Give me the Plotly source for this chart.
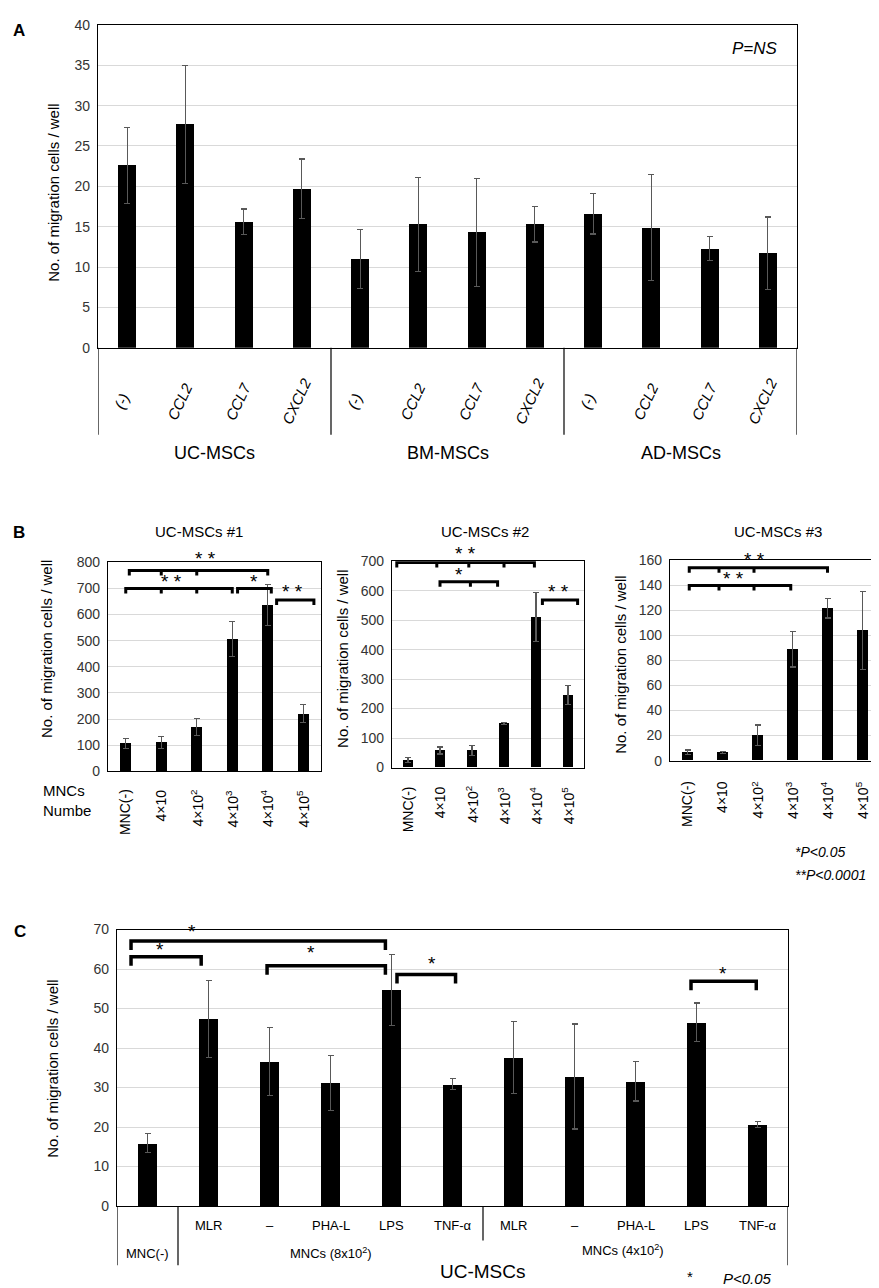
import plotly.graph_objects as go

W, H = 879, 1288
FONT = "Liberation Sans, Arial, sans-serif"

# ---- panel A data
a_groups = ["UC-MSCs", "BM-MSCs", "AD-MSCs"]
a_factors = ["(-)", "CCL2", "CCL7", "CXCL2"]
a_mean = [22.6, 27.7, 15.6, 19.7, 11.0, 15.3, 14.3, 15.3, 16.6, 14.9, 12.3, 11.7]
a_sd = [4.7, 7.3, 1.6, 3.7, 3.7, 5.8, 6.7, 2.2, 2.5, 6.6, 1.5, 4.5]

# ---- panel B data
b_titles = ["UC-MSCs #1", "UC-MSCs #2", "UC-MSCs #3"]
b_ticks = ["MNC(-)", "4×10", "4×10<sup>2</sup>", "4×10<sup>3</sup>", "4×10<sup>4</sup>", "4×10<sup>5</sup>"]
b1_mean = [107, 112, 171, 506, 636, 221]
b1_sd = [19, 23, 33, 66, 78, 34]
b2_mean = [26, 58, 58, 149, 511, 246]
b2_sd = [8, 12, 16, 4, 83, 32]
b3_mean = [6.6, 6.5, 20.2, 89, 121.5, 104]
b3_sd = [1.9, 0.6, 8.2, 14.2, 7.7, 31]

# ---- panel C data
c_ticks = ["", "MLR", "–", "PHA-L", "LPS", "TNF-α", "MLR", "–", "PHA-L", "LPS", "TNF-α"]
c_mean = [15.9, 47.4, 36.6, 31.2, 54.7, 30.8, 37.6, 32.8, 31.6, 46.5, 20.6]
c_sd = [2.4, 9.7, 8.6, 7.0, 8.9, 1.4, 9.1, 13.3, 5.0, 4.9, 0.7]

# significance brackets: (x0, x1, level, inner ticks, label, label x, label y)
br_b1 = [(0.1, 4.0, 768, [1, 2], "* *", 2.25, 812),
         (0.0, 3.0, 699, [1, 2], "* *", 1.3, 725),
         (3.15, 4.1, 699, [], "*", 3.6, 725),
         (4.25, 5.3, 655, [], "* *", 4.7, 688)]
br_b2 = [(-0.35, 3.95, 695, [0.9, 1.9, 3.0], "* *", 1.8, 725),
         (1.0, 2.8, 630, [1.95], "*", 1.6, 654),
         (4.2, 5.3, 568, [], "* *", 4.7, 598)]
br_b3 = [(0.05, 4.0, 154, [0.9, 1.9], "* *", 1.9, 160.5),
         (0.05, 2.95, 139.7, [0.9, 1.9], "* *", 1.3, 145)]
br_c = [(-0.27, 3.9, 67.1, [], "*", 0.73, 69.6),
        (-0.27, 0.88, 63.1, [], "*", 0.2, 65.0),
        (1.96, 3.9, 60.8, [], "*", 2.68, 64.1),
        (4.09, 5.05, 58.6, [], "*", 4.66, 61.4),
        (8.91, 9.98, 56.9, [], "*", 9.43, 58.8)]


def fx(px):
    return px / W


def fy(py):
    return 1 - py / H


fig = go.Figure()


def add_bars(mean, sd, xa, ya, width):
    fig.add_trace(go.Bar(
        x=list(range(len(mean))), y=mean, xaxis=xa, yaxis=ya,
        width=width, marker=dict(color="black", line=dict(width=0)),
        error_y=dict(type="data", array=sd, visible=True,
                     color="#595959", thickness=1.2, width=3),
        showlegend=False))


add_bars(a_mean, a_sd, "x", "y", 0.31)
add_bars(b1_mean, b1_sd, "x2", "y2", 0.3)
add_bars(b2_mean, b2_sd, "x3", "y3", 0.31)
add_bars(b3_mean, b3_sd, "x4", "y4", 0.33)
add_bars(c_mean, c_sd, "x5", "y5", 0.32)

tickfont = dict(family=FONT, size=14, color="#333333")


def xax(l, r, n):
    return dict(domain=[fx(l), fx(r)], range=[-0.5, n - 0.5], showticklabels=False,
                showgrid=False, zeroline=False, showline=True, mirror=True,
                linecolor="black", linewidth=1.2, ticks="", fixedrange=True)


def yax(top, bottom, rng, dtick, anchor):
    return dict(domain=[fy(bottom), fy(top)], range=rng, dtick=dtick, anchor=anchor,
                showgrid=True, gridcolor="#d9d9d9", gridwidth=1, zeroline=False,
                showline=True, mirror=True, linecolor="black", linewidth=1.2,
                ticks="", tickfont=tickfont, ticklabelstandoff=4)


yaxes = {
    "y": yax(9, 336, [0, 40], 5, "x"),
    "y2": yax(553, 765, [0, 800], 100, "x2"),
    "y3": yax(552, 761, [0, 700], 100, "x3"),
    "y4": yax(551, 754, [0, 160], 20, "x4"),
    "y5": yax(925, 1205, [0, 70], 10, "x5"),
}

fig.update_layout(
    width=W, height=H, margin=dict(l=0, r=0, t=0, b=0),
    paper_bgcolor="white", plot_bgcolor="white", bargap=0,
    font=dict(family=FONT, color="black"),
    xaxis=dict(xax(90, 789, 12), anchor="y"),
    yaxis=yaxes["y"],
    xaxis2=dict(xax(100, 313, 6), anchor="y2"),
    yaxis2=yaxes["y2"],
    xaxis3=dict(xax(384, 576, 6), anchor="y3"),
    yaxis3=yaxes["y3"],
    xaxis4=dict(xax(662, 872, 6), anchor="y4"),
    yaxis4=yaxes["y4"],
    xaxis5=dict(xax(109, 780, 11), anchor="y5"),
    yaxis5=yaxes["y5"],
)


def to_paper(ya, v):
    # data value -> paper fraction along that y axis (labels may sit above the range)
    d0, d1 = yaxes[ya]["domain"]
    r0, r1 = yaxes[ya]["range"]
    return d0 + (v - r0) / (r1 - r0) * (d1 - d0)


ann = []
shapes = []


def text(x, y, t, size, xref="paper", yref="paper", **kw):
    d = dict(x=x, y=y, xref=xref, yref=yref, text=t, showarrow=False,
             xanchor="center", yanchor="middle",
             font=dict(family=FONT, size=size, color=kw.pop("color", "black")))
    d.update(kw)
    ann.append(d)


def vline(xref, x, top, bottom, width=1.2):
    shapes.append(dict(type="line", xref=xref, yref="paper", x0=x, x1=x,
                       y0=fy(top), y1=fy(bottom), line=dict(color="black", width=width)))


# panel letters
text(fx(11), fy(15), "<b>A</b>", 17)
text(fx(11), fy(523), "<b>B</b>", 17)
text(fx(12), fy(927), "<b>C</b>", 17)

# y titles
ytitle = "No. of migration cells / well"
text(fx(46), fy(179), ytitle, 15, textangle=-90)
text(fx(38), fy(641), ytitle, 15, textangle=-90)
text(fx(335), fy(651), ytitle, 15, textangle=-90)
text(fx(613), fy(657), ytitle, 15, textangle=-90)
text(fx(45), fy(1066), ytitle, 15, textangle=-90)

# ---- panel A category axis
text(fx(747), fy(33), "<i>P=NS</i>", 17)
for i in range(len(a_mean)):
    text(i - 0.1, fy(390), "<i>" + a_factors[i % 4] + "</i>", 15, xref="x", textangle=-65)
for g, name in enumerate(a_groups):
    text(g * 4 + 1.5, fy(442), name, 18, xref="x")
for xs in [-0.5, 3.5, 7.5, 11.5]:
    vline("x", xs, 336, 424)

# ---- panel B titles / ticks
for name, cx in zip(b_titles, [191, 477, 770]):
    text(fx(cx), fy(522), name, 15)
for xa, top in [("x2", 781), ("x3", 778), ("x4", 773)]:
    for i, t in enumerate(b_ticks):
        text(i, fy(top), t, 14, xref=xa, textangle=-90, yanchor="top")
text(fx(33), fy(794), "MNCs<br>Numbe", 15, xanchor="left", align="left")
text(fx(785), fy(847), "<i>*P<0.05</i>", 14, xanchor="left")
text(fx(785), fy(870), "<i>**P<0.0001</i>", 14, xanchor="left")


def add_brackets(specs, xa, ya, tick, lw, size):
    for x0, x1, lvl, inner, lab, lx, ly in specs:
        path = f"M{x0},{-tick} L{x0},0 L{x1},0 L{x1},{-tick}"
        shapes.append(dict(type="path", xref=xa, yref=ya, ysizemode="pixel", yanchor=lvl,
                           path=path, line=dict(color="black", width=lw)))
        for t in inner:
            shapes.append(dict(type="line", xref=xa, yref=ya, ysizemode="pixel", yanchor=lvl,
                               x0=t, x1=t, y0=0, y1=-tick, line=dict(color="black", width=lw)))
        text(lx, to_paper(ya, ly), lab, size, xref=xa)


add_brackets(br_b1, "x2", "y2", 5, 3, 19)
add_brackets(br_b2, "x3", "y3", 5, 3, 19)
add_brackets(br_b3, "x4", "y4", 5, 3, 19)
add_brackets(br_c, "x5", "y5", 9, 3.5, 19)

# ---- panel C category axis
for i, t in enumerate(c_ticks):
    if t:
        text(i, fy(1225), t, 13, xref="x5")
text(0, fy(1253), "MNC(-)", 13, xref="x5")
text(3, fy(1253), "MNCs (8x10<sup>2</sup>)", 13, xref="x5")
text(7.8, fy(1250), "MNCs (4x10<sup>2</sup>)", 13, xref="x5")
text(5.5, fy(1271), "UC-MSCs", 19, xref="x5")
text(fx(682), fy(1276), "*", 15)
text(fx(739), fy(1278), "<i>P<0.05</i>", 15)
vline("x5", -0.5, 1205, 1265)
vline("x5", 0.5, 1205, 1265)
vline("x5", 5.5, 1205, 1240)
vline("x5", 10.5, 1205, 1265)

fig.update_layout(annotations=ann, shapes=shapes)
fig.write_html("out.html")
